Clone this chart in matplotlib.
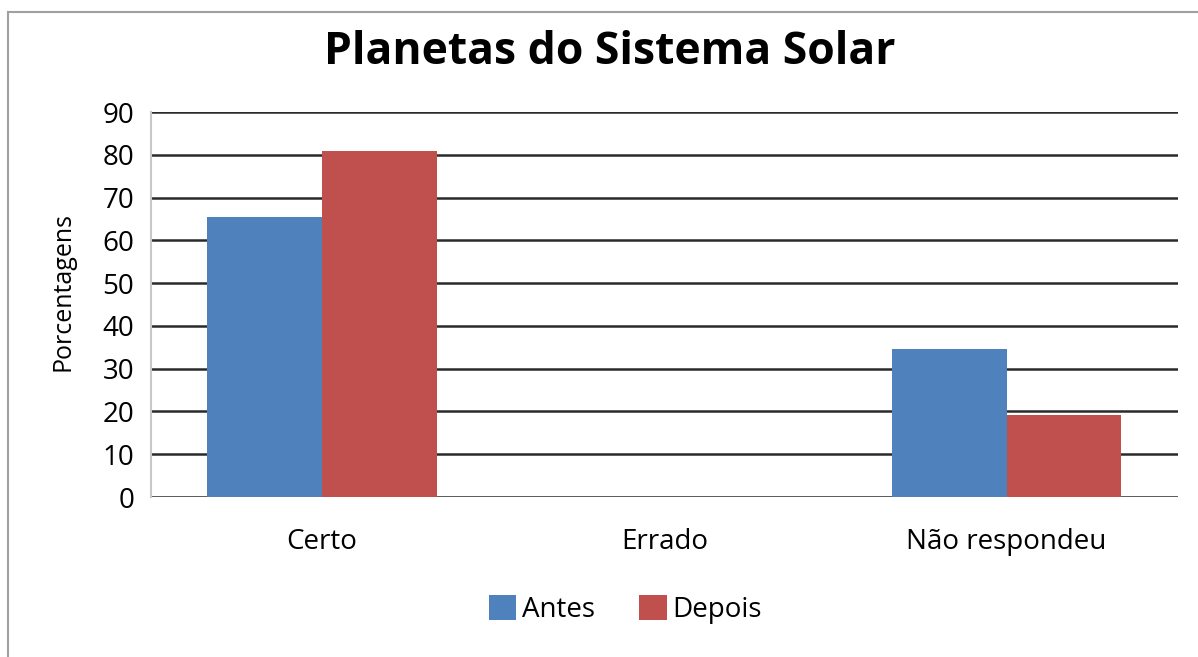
import matplotlib.pyplot as plt
import numpy as np
from matplotlib.lines import Line2D

categorias = ['Certo', 'Errado', 'Não respondeu']
antes = [65.4, 0, 34.6]
depois = [80.8, 0, 19.2]
yticks = [0, 10, 20, 30, 40, 50, 60, 70, 80, 90]

plt.rcParams['font.family'] = ['Open Sans', 'DejaVu Sans']

fig = plt.figure(figsize=(11.98, 6.57), dpi=100)
ax = fig.add_axes([0.126, 0.2435, 0.857, 0.586])

x = np.arange(len(categorias))
w = 0.335
ax.bar(x - w/2, antes, w, color='#4F81BD', label='Antes', zorder=3)
ax.bar(x + w/2, depois, w, color='#C0504D', label='Depois', zorder=3)

ax.set_xlim(-0.5, 2.5)
ax.set_ylim(0, 90)
ax.set_yticks(yticks)
ax.yaxis.grid(True, color='#2a2a2a', linewidth=1.8, zorder=0)
ax.set_axisbelow(True)
ax.set_xticks(x)
ax.set_xticklabels(categorias, fontsize=20)
ax.tick_params(axis='y', labelsize=20, length=0, pad=12)
ax.tick_params(axis='x', length=0, pad=22)
for s in ['top', 'right', 'bottom']:
    ax.spines[s].set_visible(False)
ax.spines['left'].set_color('#c8c8c8')
ax.spines['left'].set_linewidth(1.5)
ax.set_ylabel('Porcentagens', fontsize=18)
ax.yaxis.set_label_coords(-0.073, 0.535)

fig.text(0.509, 0.92, 'Planetas do Sistema Solar', ha='center', va='center',
         fontsize=32, fontweight='bold')

fig.legend(loc='center', bbox_to_anchor=(0.522, 0.072), ncol=2, frameon=False,
           fontsize=20, handlelength=1.0, handleheight=1.0, handletextpad=0.2,
           columnspacing=1.6)

# moldura do gráfico
fig.add_artist(Line2D([8/1198, 8/1198], [0, 1 - 12/657], color='#a0a0a0', lw=1.5))
fig.add_artist(Line2D([8/1198, 1], [1 - 12/657, 1 - 12/657], color='#a0a0a0', lw=1.5))

fig.savefig('out.png', dpi=100)
